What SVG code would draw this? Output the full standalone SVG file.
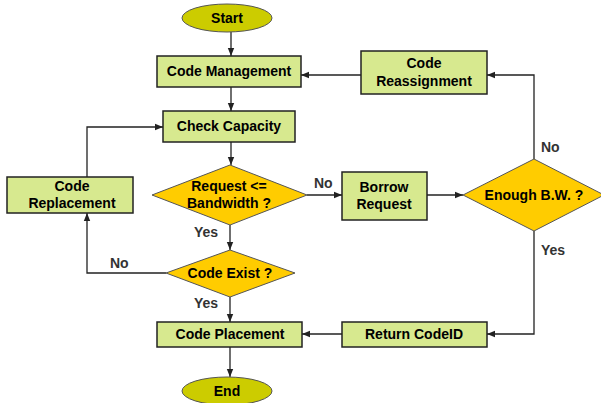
<svg xmlns="http://www.w3.org/2000/svg" width="601" height="403" viewBox="0 0 601 403">
<defs>
<marker id="ah" viewBox="0 0 10 10" refX="10" refY="5" markerWidth="8" markerHeight="8" markerUnits="userSpaceOnUse" orient="auto">
<path d="M0,1 L10,5 L0,9 z" fill="#222"/>
</marker>
<style>
.box{fill:#D7E98F;stroke:#222;stroke-width:1.5}
.dia{fill:#FFCC00;stroke:#555;stroke-width:1}
.ell{fill:#CCCC00;stroke:#555;stroke-width:1}
.t{font-family:"Liberation Sans",Arial,sans-serif;font-weight:bold;font-size:14px;fill:#000;text-anchor:middle}
.l{font-family:"Liberation Sans",Arial,sans-serif;font-weight:bold;font-size:14px;fill:#333}
.c{fill:none;stroke:#222;stroke-width:1.3;marker-end:url(#ah)}
</style>
</defs>
<rect width="601" height="403" fill="#fff"/>
<g id="connectors">
<path class="c" d="M231,32 V56"/>
<path class="c" d="M231,87 V111"/>
<path class="c" d="M231,142 V165"/>
<path class="c" d="M230,225 V250"/>
<path class="c" d="M230,297 V322"/>
<path class="c" d="M230,347 V377"/>
<path class="c" d="M307,195 H342"/>
<path class="c" d="M427,195 H463"/>
<path class="c" d="M534,159 V75 H487"/>
<path class="c" d="M361,75 H301"/>
<path class="c" d="M534,231 V334 H487"/>
<path class="c" d="M342,334 H302"/>
<path class="c" d="M166,273 H87 V213"/>
<path class="c" d="M87,177 V127 H163"/>
<text class="l" x="194" y="237">Yes</text>
<text class="l" x="194" y="308">Yes</text>
<text class="l" x="110" y="268">No</text>
<text class="l" x="314" y="188">No</text>
<text class="l" x="541" y="152">No</text>
<text class="l" x="541" y="255">Yes</text>
</g>
<g id="start"><ellipse class="ell" cx="227" cy="18" rx="45" ry="14"/><text class="t" x="227" y="23">Start</text></g>
<g id="code-management"><rect class="box" x="157" y="56" width="144" height="31"/><text class="t" x="229" y="76">Code Management</text></g>
<g id="check-capacity"><rect class="box" x="163" y="111" width="132" height="31"/><text class="t" x="229" y="131">Check Capacity</text></g>
<g id="code-replacement"><rect class="box" x="7" y="177" width="126" height="36"/><text class="t" x="72" y="191">Code</text><text class="t" x="72" y="208">Replacement</text></g>
<g id="request-bandwidth"><polygon class="dia" points="152,195 230,165 307,195 230,225"/><text class="t" x="229" y="191">Request &lt;=</text><text class="t" x="229" y="208">Bandwidth ?</text></g>
<g id="code-exist"><polygon class="dia" points="166,273 230,250 295,273 230,297"/><text class="t" x="230" y="278">Code Exist ?</text></g>
<g id="code-placement"><rect class="box" x="157" y="322" width="145" height="25"/><text class="t" x="230" y="339">Code Placement</text></g>
<g id="end"><ellipse class="ell" cx="227" cy="391" rx="45" ry="14"/><text class="t" x="227" y="396">End</text></g>
<g id="borrow-request"><rect class="box" x="342" y="172" width="85" height="48"/><text class="t" x="384" y="192">Borrow</text><text class="t" x="384" y="209">Request</text></g>
<g id="enough-bw"><polygon class="dia" points="463,195 534,159 604,195 534,231"/><text class="t" x="534" y="200">Enough B.W. ?</text></g>
<g id="code-reassignment"><rect class="box" x="361" y="51" width="126" height="43"/><text class="t" x="424" y="68">Code</text><text class="t" x="424" y="86">Reassignment</text></g>
<g id="return-codeid"><rect class="box" x="342" y="322" width="145" height="25"/><text class="t" x="414" y="339">Return CodeID</text></g>
</svg>
